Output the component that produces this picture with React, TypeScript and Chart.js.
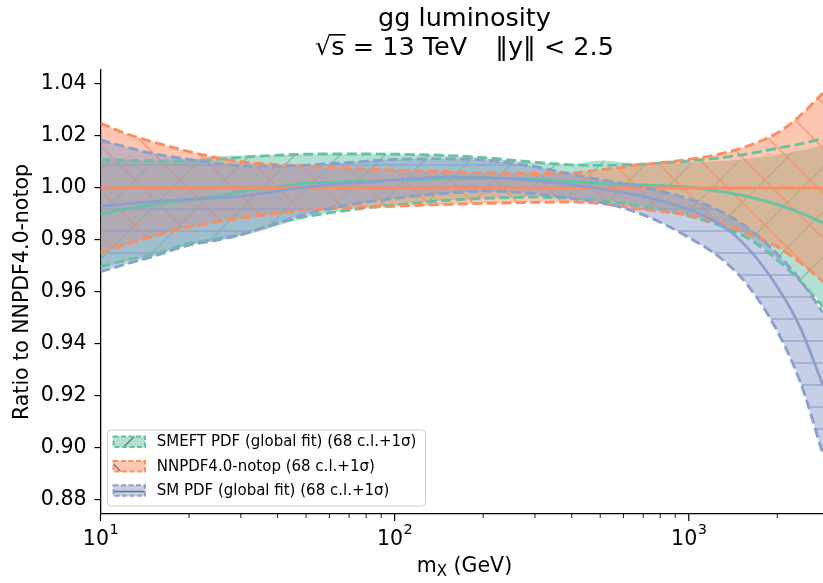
import React, { useEffect, useRef } from "react";
import { Chart, registerables } from "chart.js";

Chart.register(...registerables);

// ---------------- data ----------------
const massGeV = [10, 12, 15, 20, 25, 30, 40, 50, 70, 100, 150, 200, 300, 400, 500, 700, 1000, 1300, 1600, 2000, 2400, 2860];

// SMEFT PDF (global fit)
const smeftCentral = [0.99, 0.9918, 0.9935, 0.9954, 0.997, 0.9986, 1.0005, 1.0018, 1.0025, 1.003, 1.0036, 1.0038, 1.0034, 1.0025, 1.0018, 1.0012, 1.0003, 0.9985, 0.9966, 0.9936, 0.9905, 0.9865];
const smeftUpper68 = [1.011, 1.0107, 1.0105, 1.0104, 1.011, 1.0118, 1.0126, 1.013, 1.0131, 1.013, 1.0125, 1.0117, 1.0099, 1.0089, 1.0087, 1.0092, 1.0104, 1.0117, 1.0132, 1.0153, 1.017, 1.019];
const smeftLower68 = [0.9697, 0.972, 0.9745, 0.9787, 0.9805, 0.9822, 0.9865, 0.989, 0.9915, 0.9935, 0.9952, 0.996, 0.9965, 0.996, 0.9952, 0.993, 0.9893, 0.9852, 0.9805, 0.9723, 0.964, 0.9543];
const smeftUpper1s = [1.0113, 1.0108, 1.0106, 1.0108, 1.0123, 1.0124, 1.0127, 1.013, 1.0131, 1.013, 1.0124, 1.0115, 1.0098, 1.0092, 1.0106, 1.0093, 1.0098, 1.0104, 1.0113, 1.0128, 1.0145, 1.0165];
const smeftLower1s = [0.969, 0.9717, 0.9742, 0.978, 0.9798, 0.9815, 0.9855, 0.9888, 0.9915, 0.9936, 0.9953, 0.9961, 0.9966, 0.9961, 0.9953, 0.9932, 0.9896, 0.9856, 0.981, 0.9728, 0.9646, 0.955];

// NNPDF4.0-notop
const notopCentral = [1.0, 1.0, 1.0, 1.0, 1.0, 1.0, 1.0, 1.0, 1.0, 1.0, 1.0, 1.0, 1.0, 1.0, 1.0, 1.0, 1.0, 1.0, 1.0, 1.0, 1.0, 1.0];
const notopUpper = [1.025, 1.0212, 1.0178, 1.014, 1.0116, 1.0101, 1.009, 1.0085, 1.0077, 1.0069, 1.0063, 1.0059, 1.0056, 1.0058, 1.007, 1.009, 1.011, 1.0133, 1.0163, 1.0212, 1.028, 1.0365];
const notopLower = [0.975, 0.978, 0.9813, 0.985, 0.987, 0.9884, 0.9903, 0.9915, 0.9924, 0.993, 0.9937, 0.9941, 0.9945, 0.9946, 0.994, 0.9918, 0.9895, 0.9862, 0.9822, 0.9774, 0.9712, 0.964];

// SM PDF (global fit)
const smCentral = [0.993, 0.9938, 0.9948, 0.9956, 0.9962, 0.9969, 0.9988, 1.0003, 1.0018, 1.003, 1.0043, 1.0041, 1.0028, 1.0012, 0.9997, 0.9968, 0.9918, 0.9855, 0.9765, 0.962, 0.946, 0.924];
const smUpper = [1.0185, 1.016, 1.0133, 1.011, 1.0095, 1.0086, 1.0084, 1.0088, 1.0098, 1.011, 1.0112, 1.0108, 1.0082, 1.0052, 1.0032, 1.0003, 0.9958, 0.9907, 0.9843, 0.9746, 0.9644, 0.952];
const smLower = [0.9678, 0.9705, 0.9736, 0.978, 0.98, 0.982, 0.9865, 0.99, 0.9935, 0.996, 0.998, 0.9988, 0.9978, 0.996, 0.9945, 0.9897, 0.981, 0.9725, 0.9621, 0.9449, 0.925, 0.8976];

const yTickValues = [0.88, 0.9, 0.92, 0.94, 0.96, 0.98, 1.0, 1.02, 1.04];
const xMajorTicks = [10, 100, 1000];
const xMinorTicks = [20, 30, 40, 50, 60, 70, 80, 90, 200, 300, 400, 500, 600, 700, 800, 900, 2000];
const xMajorExponents = ["1", "2", "3"];

const legendLabels = [
  "SMEFT PDF (global fit) (68 c.l.+1σ)",
  "NNPDF4.0-notop (68 c.l.+1σ)",
  "SM PDF (global fit) (68 c.l.+1σ)",
];

const X_MIN = 10;
const X_MAX = 2860;
const Y_MIN = 0.8746;
const Y_MAX = 1.0454;

// ---------------- styling ----------------
const RGB_GREEN = "102,194,165";
const RGB_ORANGE = "252,141,98";
const RGB_BLUE = "141,160,203";
const FONT = '"DejaVu Sans", "Liberation Sans", sans-serif';
const TITLE_CX = 464.5;

function makeHatch(rgb: string, kind: "ne" | "nw" | "h"): CanvasPattern | string {
  const c = document.createElement("canvas");
  const w = kind === "h" ? 8 : 45;
  const h = kind === "h" ? 22 : 45;
  c.width = w;
  c.height = h;
  const g = c.getContext("2d");
  if (!g) return `rgba(${rgb},0.5)`;
  g.fillStyle = `rgba(${rgb},0.5)`;
  g.fillRect(0, 0, w, h);
  g.strokeStyle = `rgba(${rgb},0.85)`;
  g.lineWidth = 1.4;
  g.beginPath();
  if (kind === "h") {
    g.moveTo(0, 11);
    g.lineTo(w, 11);
  } else if (kind === "ne") {
    g.moveTo(-3, h + 3);
    g.lineTo(w + 3, -3);
    g.moveTo(-3, 3);
    g.lineTo(3, -3);
    g.moveTo(w - 3, h + 3);
    g.lineTo(w + 3, h - 3);
  } else {
    g.moveTo(-3, -3);
    g.lineTo(w + 3, h + 3);
    g.moveTo(w - 3, -3);
    g.lineTo(w + 3, 3);
    g.moveTo(-3, h - 3);
    g.lineTo(3, h + 3);
  }
  g.stroke();
  const p = g.createPattern(c, "repeat");
  return p || `rgba(${rgb},0.5)`;
}

const pts = (ys: number[]) => massGeV.map((x, i) => ({ x, y: ys[i] }));

const annotPlugin = {
  id: "annot",
  afterDraw(chart: any) {
    const ctx: CanvasRenderingContext2D = chart.ctx;
    const xs = chart.scales.x;
    const area = chart.chartArea;
    const cx = TITLE_CX;
    ctx.save();
    ctx.fillStyle = "#000";
    ctx.strokeStyle = "#000";

    // x ticks
    ctx.lineWidth = 1.2;
    for (const v of xMajorTicks) {
      const p = xs.getPixelForValue(v);
      ctx.beginPath();
      ctx.moveTo(p, area.bottom);
      ctx.lineTo(p, area.bottom + 7);
      ctx.stroke();
    }
    ctx.lineWidth = 0.9;
    for (const v of xMinorTicks) {
      const p = xs.getPixelForValue(v);
      ctx.beginPath();
      ctx.moveTo(p, area.bottom);
      ctx.lineTo(p, area.bottom + 4);
      ctx.stroke();
    }

    // x tick labels 10^n
    ctx.textBaseline = "alphabetic";
    ctx.textAlign = "left";
    xMajorTicks.forEach((v, i) => {
      const p = xs.getPixelForValue(v);
      ctx.font = `20.5px ${FONT}`;
      const wb = ctx.measureText("10").width;
      ctx.font = `14.5px ${FONT}`;
      const we = ctx.measureText(xMajorExponents[i]).width;
      const x0 = p - (wb + we) / 2;
      ctx.font = `20.5px ${FONT}`;
      ctx.fillText("10", x0, 545);
      ctx.font = `14.5px ${FONT}`;
      ctx.fillText(xMajorExponents[i], x0 + wb + 0.5, 534);
    });

    // x axis title m_X (GeV)
    {
      ctx.font = `20.5px ${FONT}`;
      const wm = ctx.measureText("m").width;
      const wr = ctx.measureText(" (GeV)").width;
      ctx.font = `15px ${FONT}`;
      const wx = ctx.measureText("X").width;
      const x0 = cx - (wm + wx + wr) / 2;
      ctx.font = `20.5px ${FONT}`;
      ctx.fillText("m", x0, 572);
      ctx.font = `15px ${FONT}`;
      ctx.fillText("X", x0 + wm, 576);
      ctx.font = `20.5px ${FONT}`;
      ctx.fillText(" (GeV)", x0 + wm + wx, 572);
    }

    // y axis title
    ctx.save();
    ctx.translate(27.5, (area.top + area.bottom) / 2);
    ctx.rotate(-Math.PI / 2);
    ctx.textAlign = "center";
    ctx.font = `20.5px ${FONT}`;
    ctx.fillText("Ratio to NNPDF4.0-notop", 0, 0);
    ctx.restore();

    // title
    const TF = 25.5;
    ctx.font = `${TF}px ${FONT}`;
    ctx.textAlign = "center";
    ctx.fillText("gg luminosity", cx, 25.5);
    ctx.textAlign = "left";
    {
      const base2 = 55;
      const wRad = ctx.measureText("√").width;
      const wS = ctx.measureText("s").width;
      const partA = " = 13 TeV";
      const partB = "‖y‖ < 2.5";
      const wA = ctx.measureText(partA).width;
      const wB = ctx.measureText(partB).width;
      const gap = TF * 1.1;
      const total = wRad + wS + wA + gap + wB;
      let x = cx - total / 2;
      ctx.fillText("√", x, base2);
      const m = ctx.measureText("√");
      const top = base2 - m.actualBoundingBoxAscent;
      ctx.fillRect(x + wRad - 1.5, top, wS + 2.5, 1.6);
      x += wRad;
      ctx.fillText("s", x, base2);
      x += wS;
      ctx.fillText(partA, x, base2);
      x += wA + gap;
      ctx.fillText(partB, x, base2);
    }

    // legend
    {
      const bx = 107.5, by = 430, bw = 318, bh = 76;
      ctx.beginPath();
      if ((ctx as any).roundRect) (ctx as any).roundRect(bx, by, bw, bh, 4);
      else ctx.rect(bx, by, bw, bh);
      ctx.fillStyle = "rgba(255,255,255,0.8)";
      ctx.fill();
      ctx.strokeStyle = "#cccccc";
      ctx.lineWidth = 1;
      ctx.stroke();
      const rows = [441.7, 466.2, 490.5];
      const rgbs = [RGB_GREEN, RGB_ORANGE, RGB_BLUE];
      rows.forEach((cy, i) => {
        const px = 113.5, pw = 31.5, ph = 10.5, py = cy - ph / 2;
        ctx.fillStyle = `rgba(${rgbs[i]},0.5)`;
        ctx.fillRect(px, py, pw, ph);
        ctx.save();
        ctx.beginPath();
        ctx.rect(px, py, pw, ph);
        ctx.clip();
        ctx.strokeStyle = "rgba(60,60,60,0.65)";
        ctx.lineWidth = 1.3;
        ctx.beginPath();
        if (i === 0) {
          ctx.moveTo(px + 9, py + ph + 1);
          ctx.lineTo(px + 22, py - 1);
        } else if (i === 1) {
          ctx.moveTo(px - 1, py + 2);
          ctx.lineTo(px + 8, py + ph + 1);
        } else {
          ctx.moveTo(px, cy + 1);
          ctx.lineTo(px + pw, cy + 1);
        }
        ctx.stroke();
        ctx.restore();
        ctx.strokeStyle = `rgb(${rgbs[i]})`;
        ctx.lineWidth = 2;
        ctx.setLineDash([5, 2.5]);
        ctx.strokeRect(px, py, pw, ph);
        ctx.setLineDash([]);
        ctx.fillStyle = "#000";
        ctx.font = `15px ${FONT}`;
        ctx.textBaseline = "middle";
        ctx.fillText(legendLabels[i], 156.7, cy + 0.5);
        ctx.textBaseline = "alphabetic";
      });
    }
    ctx.restore();
  },
};

export default function App() {
  const ref = useRef<HTMLCanvasElement>(null);
  useEffect(() => {
    if (!ref.current) return;
    const base: any = {
      pointRadius: 0,
      pointHoverRadius: 0,
      cubicInterpolationMode: "monotone",
    };
    const datasets: any[] = [];
    let ord = 100;
    const fillPair = (up: number[], lo: number[], bg: any) => {
      datasets.push({ ...base, data: pts(up), borderWidth: 0, borderColor: "rgba(0,0,0,0)", backgroundColor: bg, fill: "+1", order: ord-- });
      datasets.push({ ...base, data: pts(lo), borderWidth: 0, borderColor: "rgba(0,0,0,0)", fill: false, order: ord-- });
    };
    const lineSet = (up: number[], lo: number[], mid: number[], rgb: string) => {
      const dash = { ...base, borderColor: `rgb(${rgb})`, borderWidth: 2.9, borderDash: [10, 4.5], fill: false };
      datasets.push({ ...dash, data: pts(up), order: ord-- });
      datasets.push({ ...dash, data: pts(lo), order: ord-- });
      datasets.push({ ...base, data: pts(mid), borderColor: `rgb(${rgb})`, borderWidth: 2.8, fill: false, order: ord-- });
    };
    fillPair(smeftUpper1s, smeftLower1s, makeHatch(RGB_GREEN, "ne"));
    fillPair(notopUpper, notopLower, makeHatch(RGB_ORANGE, "nw"));
    fillPair(smUpper, smLower, makeHatch(RGB_BLUE, "h"));
    lineSet(smeftUpper68, smeftLower68, smeftCentral, RGB_GREEN);
    lineSet(notopUpper, notopLower, notopCentral, RGB_ORANGE);
    lineSet(smUpper, smLower, smCentral, RGB_BLUE);

    const chart = new Chart(ref.current, {
      type: "line",
      data: { datasets },
      plugins: [annotPlugin],
      options: {
        animation: false,
        responsive: false,
        devicePixelRatio: 1,
        parsing: true,
        layout: { padding: { top: 70, left: 0, right: 0, bottom: 0 } },
        plugins: { legend: { display: false }, title: { display: false }, tooltip: { enabled: false } },
        events: [],
        scales: {
          x: {
            type: "logarithmic",
            min: X_MIN,
            max: X_MAX,
            ticks: { display: false },
            grid: { display: false },
            border: { display: true, color: "#000", width: 1.3 },
            afterFit: (s: any) => {
              s.height = 69;
            },
          },
          y: {
            type: "linear",
            min: Y_MIN,
            max: Y_MAX,
            afterBuildTicks: (s: any) => {
              s.ticks = yTickValues.map((v) => ({ value: v }));
            },
            ticks: {
              color: "#000",
              padding: 8,
              font: { family: FONT, size: 20.5 },
              callback: (v: any) => Number(v).toFixed(2),
            },
            grid: { drawOnChartArea: false, drawTicks: true, tickLength: 6, color: "#000", lineWidth: 1.2 },
            border: { display: true, color: "#000", width: 1.3 },
            afterFit: (s: any) => {
              s.width = 100.5;
            },
          },
        },
      } as any,
    });
    return () => chart.destroy();
  }, []);
  return (
    <div style={{ position: "absolute", left: 0, top: 0, width: 823, height: 583, background: "#fff" }}>
      <canvas ref={ref} width={823} height={583} style={{ display: "block", width: 823, height: 583 }} />
    </div>
  );
}
